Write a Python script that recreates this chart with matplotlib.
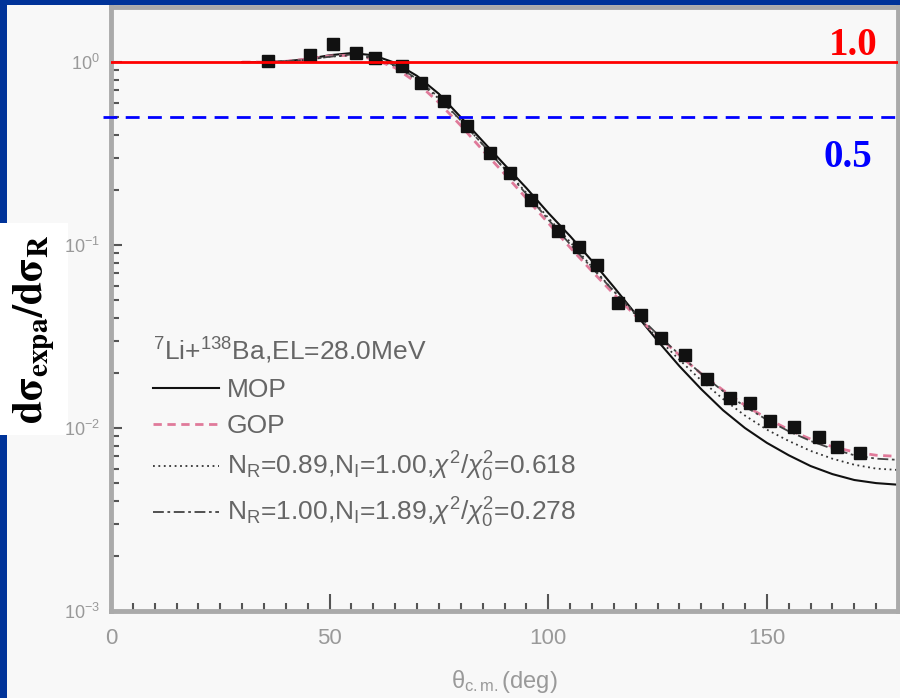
import matplotlib
matplotlib.use("Agg")
import matplotlib.pyplot as plt
from matplotlib.patches import Rectangle
from matplotlib.ticker import MultipleLocator, LogLocator

plt.rcParams['font.family'] = ['Liberation Sans', 'DejaVu Sans']
plt.rcParams['mathtext.fontset'] = 'custom'
plt.rcParams['mathtext.rm'] = 'Liberation Sans'
plt.rcParams['mathtext.it'] = 'Liberation Sans:italic'

# measured points (7Li + 138Ba, 28 MeV)
theta_exp = [35.8, 45.5, 50.7, 56.0, 60.4, 66.5, 70.9, 76.1, 81.4, 86.6, 91.3, 96.1,
             102.3, 107.1, 111.1, 116.0, 121.2, 125.8, 131.3, 136.3, 141.6, 146.1,
             150.7, 156.2, 161.9, 166.0, 171.2]
ratio_exp = [1.02, 1.10, 1.25, 1.12, 1.05, 0.95, 0.77, 0.61, 0.445, 0.32, 0.248, 0.177,
             0.119, 0.098, 0.078, 0.048, 0.0416, 0.0311, 0.0251, 0.0186, 0.0146, 0.0137,
             0.0109, 0.0101, 0.0089, 0.0079, 0.0073]

# calculated curves, read every 5 deg from 30 to 180
theta_calc = list(range(30, 181, 5))
mop = [1.00, 1.00, 1.01, 1.04, 1.09, 1.12, 1.09, 0.99, 0.84, 0.67, 0.50, 0.37, 0.275,
       0.205, 0.150, 0.112, 0.082, 0.059, 0.042, 0.030, 0.0218, 0.0163, 0.0125, 0.0100,
       0.0083, 0.0071, 0.0062, 0.0056, 0.0052, 0.0050, 0.0049]
gop = [1.00, 1.00, 1.01, 1.04, 1.08, 1.09, 1.04, 0.93, 0.77, 0.60, 0.45, 0.33, 0.245,
       0.18, 0.132, 0.097, 0.072, 0.054, 0.041, 0.032, 0.025, 0.0198, 0.0161, 0.0133,
       0.0113, 0.0098, 0.0087, 0.0079, 0.0074, 0.0071, 0.0070]
fit1 = [1.00, 1.00, 1.01, 1.03, 1.07, 1.09, 1.05, 0.95, 0.80, 0.63, 0.48, 0.355, 0.262,
        0.193, 0.141, 0.104, 0.076, 0.056, 0.0415, 0.031, 0.0236, 0.0182, 0.0144, 0.0117,
        0.0098, 0.0085, 0.0075, 0.0068, 0.0063, 0.0060, 0.0059]
fit2 = [1.00, 1.00, 1.01, 1.03, 1.07, 1.10, 1.06, 0.96, 0.81, 0.64, 0.48, 0.355, 0.26,
        0.19, 0.138, 0.101, 0.075, 0.056, 0.0425, 0.0325, 0.0252, 0.0198, 0.0159, 0.0131,
        0.0111, 0.0096, 0.0085, 0.0077, 0.0071, 0.0068, 0.0067]

labels = ['MOP', 'GOP',
          r'N$_\mathrm{R}$=0.89,N$_\mathrm{I}$=1.00,$\chi^2/\chi_0^2$=0.618',
          r'N$_\mathrm{R}$=1.00,N$_\mathrm{I}$=1.89,$\chi^2/\chi_0^2$=0.278']
legend_title = r'$^{7}$Li+$^{138}$Ba,EL=28.0MeV'

grey = '#666666'

fig = plt.figure(figsize=(9, 6.98), dpi=100, facecolor='#003399')
fig.patches.append(Rectangle((7/900, 0), 1, 1 - 5/698, transform=fig.transFigure,
                             facecolor='#f8f8f8', edgecolor='none', zorder=-2))
fig.patches.append(Rectangle((0, 1 - 435/698), 68/900, 212/698, transform=fig.transFigure,
                             facecolor='white', edgecolor='none', zorder=-1))

ax = fig.add_axes([111/900, 1 - 611/698, 787/900, 604/698])
ax.set_facecolor('#f8f8f8')
ax.set_yscale('log')
ax.set_xlim(0, 180)
ax.set_ylim(1e-3, 2.0)

ax.plot(theta_calc, mop, color='#111111', lw=1.5, label=labels[0])
ax.plot(theta_calc, gop, color='#e07a9a', lw=2, ls=(0, (3, 2)), label=labels[1])
ax.plot(theta_calc, fit1, color='#333333', lw=1.3, ls=(0, (1, 2)), label=labels[2])
ax.plot(theta_calc, fit2, color='#444444', lw=1.3, ls=(0, (6, 2, 1.5, 2)), label=labels[3])
ax.plot(theta_exp, ratio_exp, 's', color='#111111', ms=8, zorder=4)

ax.axhline(1.0, color='#ff0000', lw=2, zorder=5)
ax.axhline(0.5, xmin=-0.01, color='#0000ff', lw=2, ls=(0, (5, 3)), zorder=5, clip_on=False)
ax.text(175.3, 1.1, '1.0', color='#ff0000', fontsize=28, fontweight='bold',
        family='Liberation Serif', ha='right', va='baseline')
ax.text(174.2, 0.268, '0.5', color='#0000ff', fontsize=28, fontweight='bold',
        family='Liberation Serif', ha='right', va='baseline')

leg = ax.legend(loc='upper left', bbox_to_anchor=(0.053, 0.455), frameon=False,
                title=legend_title, alignment='left', fontsize=19, title_fontsize=19,
                labelcolor=grey, handlelength=2.5, handletextpad=0.3,
                labelspacing=0.45, borderpad=0, borderaxespad=0)
leg.get_title().set_color(grey)

for s in ax.spines.values():
    s.set_color('#aaaaaa')
    s.set_linewidth(3.5)

ax.xaxis.set_major_locator(MultipleLocator(50))
ax.xaxis.set_minor_locator(MultipleLocator(5))
ax.yaxis.set_major_locator(LogLocator(base=10))
ax.yaxis.set_minor_locator(LogLocator(base=10, subs=range(2, 10)))
ax.tick_params(which='both', direction='in', colors='#555555', width=1.5,
               top=False, right=False)
ax.tick_params(axis='x', which='major', length=12, labelsize=16, labelcolor='#999999', pad=12)
ax.tick_params(axis='x', which='minor', length=6)
ax.tick_params(axis='y', which='major', length=8, labelsize=13, labelcolor='#999999', pad=8)
ax.tick_params(axis='y', which='minor', length=6)

ax.set_xlabel(r'$\mathrm{\theta_{c.m.}}$(deg)', fontsize=17, color='#999999', labelpad=14)

fig.text(34/900, 1 - 329/698, r'$\mathbf{d\sigma_{expa}/d\sigma_R}$', rotation=90,
         fontsize=30, color='black', ha='center', va='center', math_fontfamily='stix')

fig.savefig('out.png', dpi=100, facecolor=fig.get_facecolor())
